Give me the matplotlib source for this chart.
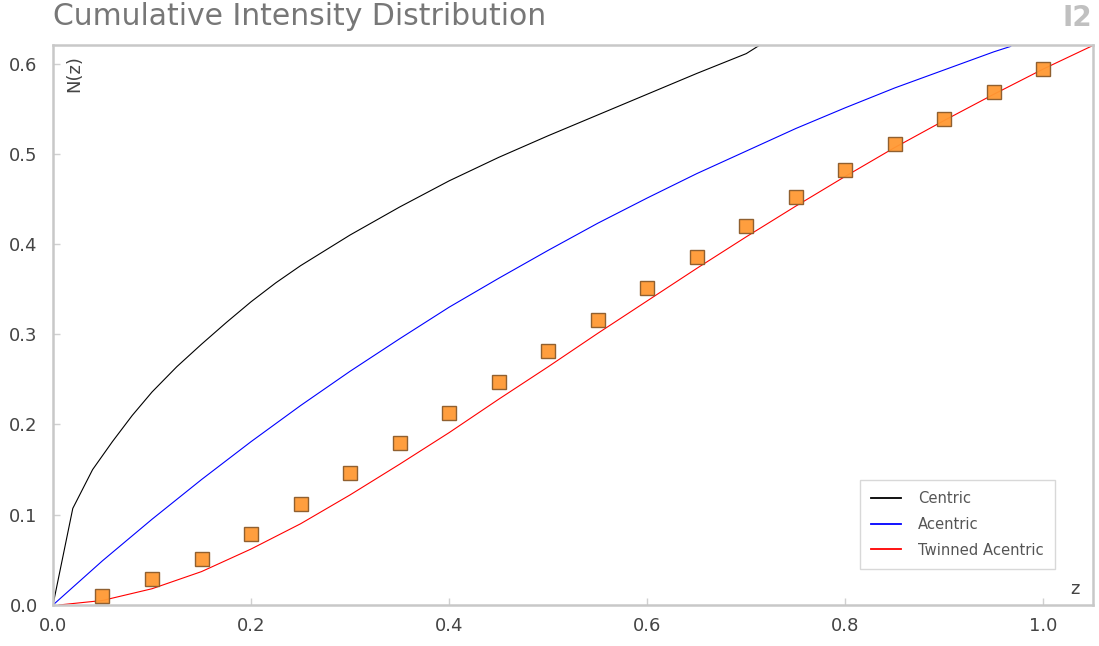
import matplotlib
matplotlib.use("Agg")
import matplotlib.pyplot as plt
from matplotlib.lines import Line2D

# N(z) curves, read point by point
centric_z = [0.0, 0.02, 0.04, 0.06, 0.08, 0.10, 0.125, 0.15, 0.175, 0.20, 0.225,
             0.25, 0.30, 0.35, 0.40, 0.45, 0.50, 0.55, 0.60, 0.65, 0.70, 0.713]
centric_n = [0.0, 0.107, 0.150, 0.181, 0.210, 0.236, 0.264, 0.289, 0.313, 0.336,
             0.357, 0.376, 0.410, 0.441, 0.470, 0.496, 0.520, 0.543, 0.566,
             0.589, 0.611, 0.620]

acentric_z = [0.0, 0.05, 0.10, 0.15, 0.20, 0.25, 0.30, 0.35, 0.40, 0.45, 0.50,
              0.55, 0.60, 0.65, 0.70, 0.75, 0.80, 0.85, 0.90, 0.95, 0.967]
acentric_n = [0.0, 0.049, 0.095, 0.139, 0.181, 0.221, 0.259, 0.295, 0.330, 0.362,
              0.393, 0.423, 0.451, 0.478, 0.503, 0.528, 0.551, 0.573, 0.593,
              0.613, 0.619]

twinned_z = [0.006, 0.05, 0.10, 0.15, 0.20, 0.25, 0.30, 0.35, 0.40, 0.45, 0.50,
             0.55, 0.60, 0.65, 0.70, 0.75, 0.80, 0.85, 0.90, 0.95, 1.00, 1.05]
twinned_n = [0.0, 0.005, 0.018, 0.037, 0.062, 0.090, 0.122, 0.156, 0.191, 0.228,
             0.264, 0.301, 0.337, 0.373, 0.408, 0.442, 0.475, 0.507, 0.537,
             0.566, 0.594, 0.620]

# observed values
obs_z = [0.05, 0.10, 0.15, 0.20, 0.25, 0.30, 0.35, 0.40, 0.45, 0.50,
         0.55, 0.60, 0.65, 0.70, 0.75, 0.80, 0.85, 0.90, 0.95, 1.00]
obs_n = [0.010, 0.029, 0.051, 0.079, 0.112, 0.146, 0.179, 0.213, 0.247, 0.281,
         0.316, 0.351, 0.386, 0.420, 0.452, 0.482, 0.511, 0.539, 0.568, 0.594]

x_ticks = [0.0, 0.2, 0.4, 0.6, 0.8, 1.0]
y_ticks = [0.0, 0.1, 0.2, 0.3, 0.4, 0.5, 0.6]

frame = "#c8c8c8"
text_col = "#444444"

fig = plt.figure(figsize=(10.99, 6.46), dpi=100)
ax = fig.add_axes([0.0482, 0.0635, 0.9463, 0.8675])

ax.plot(centric_z, centric_n, color="black", lw=0.8, label="Centric")
ax.plot(acentric_z, acentric_n, color="#0000ff", lw=0.8, label="Acentric")
ax.plot(twinned_z, twinned_n, color="#ff0000", lw=0.8, label="Twinned Acentric")
ax.plot(obs_z, obs_n, ls="none", marker="s", ms=10.2, mfc="#ff9933",
        mec="#8a5a2a", mew=1.0, alpha=0.95, zorder=3)

ax.set_xlim(0, 1.05)
ax.set_ylim(0, 0.621)
ax.set_xticks(x_ticks)
ax.set_yticks(y_ticks)
ax.set_xticklabels([f"{v:.1f}" for v in x_ticks])
ax.set_yticklabels([f"{v:.1f}" for v in y_ticks])
ax.tick_params(direction="in", length=5, width=1, color="#d0d0d0",
               labelsize=13, labelcolor=text_col)
ax.tick_params(axis="y", pad=11)
ax.tick_params(axis="x", pad=9)
for s in ax.spines.values():
    s.set_color(frame)
    s.set_linewidth(1.8)

ax.text(0.012, 0.982, "N(z)", transform=ax.transAxes, rotation=90,
        ha="left", va="top", fontsize=13, color=text_col)
ax.text(0.987, 0.012, "z", transform=ax.transAxes, ha="right", va="bottom",
        fontsize=13, color=text_col)

handles = [Line2D([], [], color="black", lw=1.3),
           Line2D([], [], color="#0000ff", lw=1.3),
           Line2D([], [], color="#ff0000", lw=1.3)]
leg = ax.legend(handles, ["Centric", "Acentric", "Twinned Acentric"],
                loc="lower right", bbox_to_anchor=(0.9635, 0.065),
                borderaxespad=0, fontsize=10.6, frameon=True, fancybox=False,
                framealpha=1, edgecolor="#d8d8d8", handlelength=2.0,
                handletextpad=1.2, labelspacing=0.72, borderpad=0.75)
leg.get_frame().set_linewidth(1)
for t in leg.get_texts():
    t.set_color("#555555")

fig.text(0.048, 0.961, "Cumulative Intensity Distribution", fontsize=21.5,
         color="#777777", ha="left", va="baseline")
fig.text(0.994, 0.960, "I2", fontsize=20, fontweight="bold", color="#c0c0c0",
         ha="right", va="baseline")

fig.savefig("out.png", dpi=100)
